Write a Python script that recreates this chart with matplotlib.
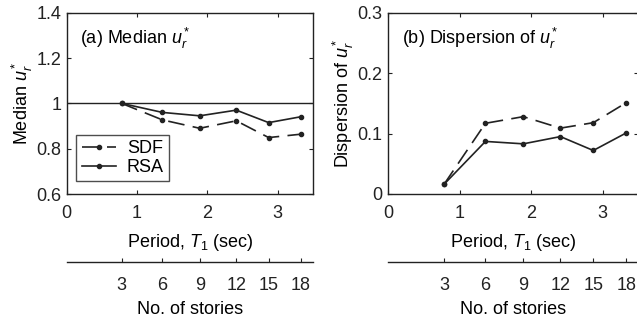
import numpy as np
import matplotlib
matplotlib.use('Agg')
import matplotlib.pyplot as plt

plt.rcParams['font.family'] = ['Liberation Sans', 'DejaVu Sans']
plt.rcParams['mathtext.fontset'] = 'custom'
plt.rcParams['mathtext.rm'] = 'Liberation Sans'
plt.rcParams['mathtext.it'] = 'Liberation Sans:italic'
plt.rcParams['font.size'] = 13

# fundamental periods of the 3..18 story frames
period = [0.78, 1.36, 1.89, 2.41, 2.87, 3.33]
stories = [3, 6, 9, 12, 15, 18]

# median of u_r*
median_sdf = [1.0, 0.927, 0.89, 0.923, 0.849, 0.864]
median_rsa = [1.0, 0.96, 0.945, 0.970, 0.915, 0.941]

# dispersion of u_r*
disp_sdf = [0.016, 0.117, 0.128, 0.109, 0.118, 0.151]
disp_rsa = [0.016, 0.087, 0.083, 0.095, 0.072, 0.101]

W, H = 637, 324
fig = plt.figure(figsize=(W / 100, H / 100), dpi=100)

lc = '#222222'
dash = (10, 5)


def frame(ax):
    ax.tick_params(direction='in', top=True, right=True, length=3, width=0.8,
                   colors=lc)
    ax.tick_params(axis='x', pad=8)
    ax.tick_params(axis='y', pad=4)
    for s in ax.spines.values():
        s.set_linewidth(1.0)
        s.set_color(lc)


def stories_axis(left, width):
    sx = fig.add_axes([left, 62.3 / H, width, 0.0001])
    sx.set_xlim(0, 3.5)
    sx.set_yticks([])
    for k in ['top', 'left', 'right']:
        sx.spines[k].set_visible(False)
    sx.spines['bottom'].set_linewidth(1.0)
    sx.spines['bottom'].set_color(lc)
    sx.set_xticks(period)
    sx.set_xticklabels([str(s) for s in stories])
    sx.tick_params(direction='in', length=3, width=0.8, pad=11, colors=lc)
    sx.set_xlabel('No. of stories', labelpad=5)
    sx.patch.set_visible(False)


# (a) median
ax1 = fig.add_axes([66.7 / W, 130 / H, 246.3 / W, 181.3 / H])
ax1.axhline(1.0, color=lc, lw=1.0)
ax1.plot(period, median_sdf, color=lc, lw=1.2, ls=(0, dash), marker='.',
         ms=6, label='SDF')
ax1.plot(period, median_rsa, color=lc, lw=1.2, marker='.', ms=6, label='RSA')
ax1.set_xlim(0, 3.5)
ax1.set_ylim(0.6, 1.4)
ax1.set_xticks([0, 1, 2, 3])
ax1.set_yticks([0.6, 0.8, 1.0, 1.2, 1.4])
ax1.set_yticklabels(['0.6', '0.8', '1', '1.2', '1.4'])
ax1.set_xlabel('Period, $T_1$ (sec)', labelpad=7)
ax1.set_ylabel('Median $u_r^*$', labelpad=1)
ax1.text(0.055, 0.86, '(a) Median $u_r^*$', transform=ax1.transAxes,
         va='center', ha='left')
leg = ax1.legend(loc='lower left', bbox_to_anchor=(0.01, 0.03), frameon=True,
                 fancybox=False, edgecolor=lc, handlelength=1.9,
                 borderpad=0.3, labelspacing=0.1, handletextpad=0.6,
                 borderaxespad=0.4, fontsize=13)
leg.get_frame().set_linewidth(1.0)
frame(ax1)
stories_axis(66.7 / W, 246.3 / W)

# (b) dispersion
ax2 = fig.add_axes([388.3 / W, 130 / H, 250 / W, 181.3 / H])
ax2.plot(period, disp_sdf, color=lc, lw=1.2, ls=(0, dash), marker='.', ms=6)
ax2.plot(period, disp_rsa, color=lc, lw=1.2, marker='.', ms=6)
ax2.set_xlim(0, 3.5)
ax2.set_ylim(0, 0.3)
ax2.set_xticks([0, 1, 2, 3])
ax2.set_yticks([0, 0.1, 0.2, 0.3])
ax2.set_yticklabels(['0', '0.1', '0.2', '0.3'])
ax2.set_xlabel('Period, $T_1$ (sec)', labelpad=7)
ax2.set_ylabel('Dispersion of $u_r^*$', labelpad=1)
ax2.text(0.055, 0.86, '(b) Dispersion of $u_r^*$', transform=ax2.transAxes,
         va='center', ha='left')
frame(ax2)
stories_axis(388.3 / W, 250 / W)

fig.savefig('out.png', dpi=100)
